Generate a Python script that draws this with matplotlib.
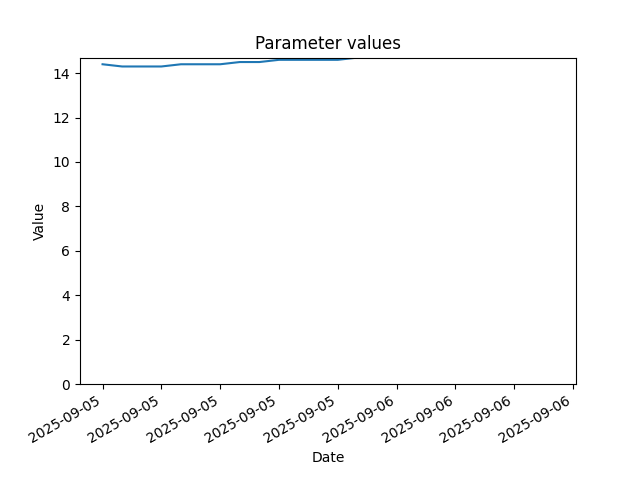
import pandas as pd
import matplotlib
matplotlib.use('Agg')
import matplotlib.pyplot as plt
import matplotlib.dates as mdates

# hourly readings, 2025-09-05 09:00 -> 2025-09-06 08:00
dates = pd.date_range('2025-09-05 09:00', periods=24, freq='h')
values = [14.4, 14.3, 14.3, 14.3, 14.4, 14.4, 14.4, 14.5, 14.5, 14.6,
          14.6, 14.6, 14.6, 14.7, 14.8, 14.9, 15.0, 15.1, 15.1, 15.2,
          15.2, 15.3, 15.3, 15.4]

fig, ax = plt.subplots(figsize=(6.4, 4.8), dpi=100)
ax.plot(dates, values)
ax.set_ylim(0, 14.7)
ax.set_title('Parameter values')
ax.set_xlabel('Date')
ax.set_ylabel('Value')

ax.xaxis.set_major_locator(mdates.HourLocator(interval=3))
ax.xaxis.set_major_formatter(mdates.DateFormatter('%Y-%m-%d'))
fig.autofmt_xdate()

fig.savefig('out.png', dpi=100)
